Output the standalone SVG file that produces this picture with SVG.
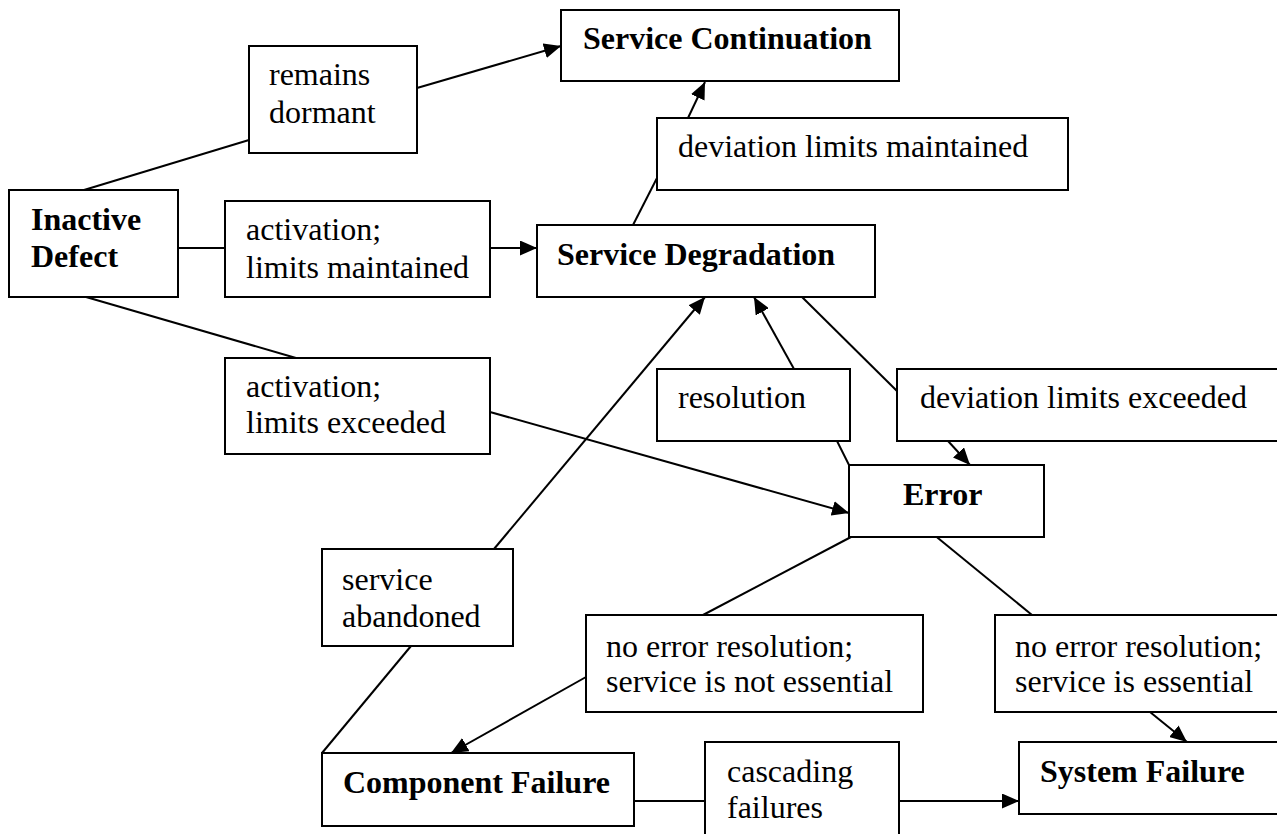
<svg xmlns="http://www.w3.org/2000/svg" width="1277" height="834" viewBox="0 0 1277 834">
<style>
rect{fill:#fff;stroke:#000;stroke-width:2}
text{font-family:'Liberation Serif','Times New Roman',Times,'DejaVu Serif',serif;font-size:32px;fill:#000}
.b{font-weight:bold}
#edges line{stroke:#000;stroke-width:2}
.a{marker-end:url(#ah)}
</style>
<defs>
<marker id="ah" markerUnits="userSpaceOnUse" markerWidth="18" markerHeight="15" refX="17" refY="7.5" orient="auto">
<path d="M0,0 L17,7.5 L0,15 z" fill="#000"/>
</marker>
</defs>
<rect x="0" y="0" width="1277" height="834" style="fill:#fff;stroke:none"/>
<g id="edges">
<line x1="84" y1="190" x2="249" y2="140"/>
<line class="a" x1="417" y1="88" x2="561" y2="46"/>
<line x1="178" y1="248" x2="225" y2="248"/>
<line class="a" x1="490" y1="248" x2="537" y2="248"/>
<line x1="633" y1="225" x2="657" y2="178"/>
<line class="a" x1="688" y1="118" x2="705" y2="82"/>
<line x1="86" y1="297" x2="296" y2="358"/>
<line class="a" x1="490" y1="412" x2="849" y2="513"/>
<line class="a" x1="494" y1="549" x2="705" y2="297"/>
<line class="a" x1="794" y1="369" x2="754" y2="297"/>
<line x1="837" y1="441" x2="849" y2="465"/>
<line x1="802" y1="297" x2="898" y2="392"/>
<line class="a" x1="948" y1="441" x2="970" y2="465"/>
<line x1="851" y1="537" x2="703" y2="615"/>
<line class="a" x1="586" y1="677" x2="451" y2="753"/>
<line x1="922" y1="525" x2="1032" y2="615"/>
<line class="a" x1="1150" y1="712" x2="1187" y2="742"/>
<line x1="322" y1="753" x2="411" y2="646"/>
<line x1="634" y1="801" x2="705" y2="801"/>
<line class="a" x1="899" y1="801" x2="1019" y2="801"/>
</g>
<g font-family="Liberation Serif, serif">
<g id="service-continuation"><rect x="561" y="10" width="338" height="71"/><text class="b" x="583" y="49">Service Continuation</text></g>
<g id="remains-dormant"><rect x="249" y="46" width="168" height="107"/><text x="269" y="85">remains</text><text x="269" y="123">dormant</text></g>
<g id="inactive-defect"><rect x="9" y="190" width="169" height="107"/><text class="b" x="31" y="230">Inactive</text><text class="b" x="31" y="267">Defect</text></g>
<g id="activation-maintained"><rect x="225" y="201" width="265" height="96"/><text x="246" y="240">activation;</text><text x="246" y="278">limits maintained</text></g>
<g id="service-degradation"><rect x="537" y="225" width="338" height="72"/><text class="b" x="557" y="265">Service Degradation</text></g>
<g id="deviation-maintained"><rect x="657" y="118" width="411" height="72"/><text x="678" y="157">deviation limits maintained</text></g>
<g id="activation-exceeded"><rect x="225" y="358" width="265" height="96"/><text x="246" y="397">activation;</text><text x="246" y="433">limits exceeded</text></g>
<g id="resolution"><rect x="657" y="369" width="193" height="72"/><text x="678" y="408">resolution</text></g>
<g id="deviation-exceeded"><rect x="897" y="369" width="400" height="72"/><text x="920" y="408">deviation limits exceeded</text></g>
<g id="error"><rect x="849" y="465" width="195" height="72"/><text class="b" x="903" y="505">Error</text></g>
<g id="service-abandoned"><rect x="322" y="549" width="191" height="97"/><text x="342" y="590">service</text><text x="342" y="627">abandoned</text></g>
<g id="no-res-not-essential"><rect x="586" y="615" width="337" height="97"/><text x="606" y="657">no error resolution;</text><text x="606" y="692">service is not essential</text></g>
<g id="no-res-essential"><rect x="995" y="615" width="300" height="97"/><text x="1015" y="657">no error resolution;</text><text x="1015" y="692">service is essential</text></g>
<g id="component-failure"><rect x="322" y="753" width="312" height="73"/><text class="b" x="343" y="793">Component Failure</text></g>
<g id="cascading"><rect x="705" y="742" width="194" height="110"/><text x="727" y="782">cascading</text><text x="727" y="818">failures</text></g>
<g id="system-failure"><rect x="1019" y="742" width="280" height="72"/><text class="b" x="1040" y="782">System Failure</text></g>
</g>
</svg>
